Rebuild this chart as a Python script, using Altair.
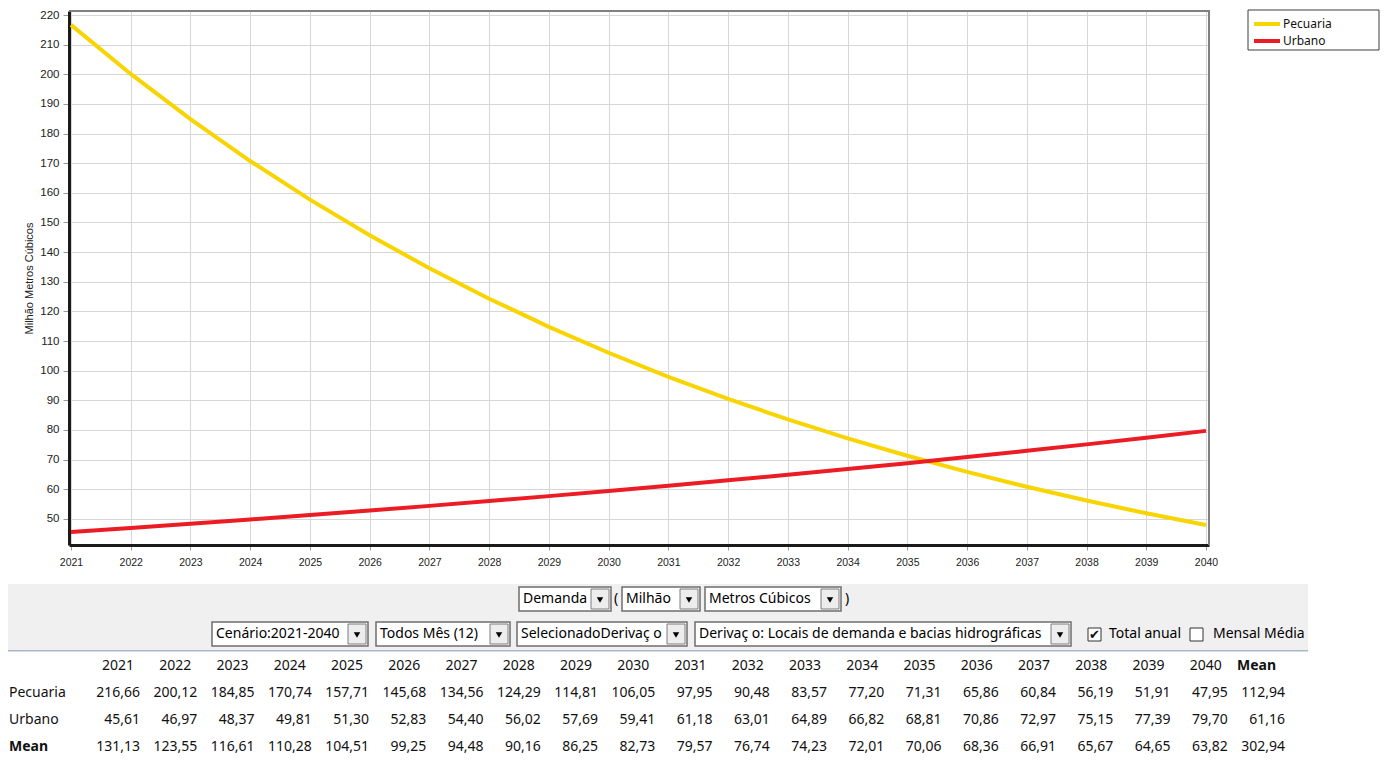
import altair as alt
import pandas as pd

# ---------------- data ----------------
years = [2021, 2022, 2023, 2024, 2025, 2026, 2027, 2028, 2029, 2030,
         2031, 2032, 2033, 2034, 2035, 2036, 2037, 2038, 2039, 2040]
pecuaria = [216.66, 200.12, 184.85, 170.74, 157.71, 145.68, 134.56, 124.29, 114.81, 106.05,
            97.95, 90.48, 83.57, 77.20, 71.31, 65.86, 60.84, 56.19, 51.91, 47.95]
urbano = [45.61, 46.97, 48.37, 49.81, 51.30, 52.83, 54.40, 56.02, 57.69, 59.41,
          61.18, 63.01, 64.89, 66.82, 68.81, 70.86, 72.97, 75.15, 77.39, 79.70]
media_anual = [131.13, 123.55, 116.61, 110.28, 104.51, 99.25, 94.48, 90.16, 86.25, 82.73,
               79.57, 76.74, 74.23, 72.01, 70.06, 68.36, 66.91, 65.67, 64.65, 63.82]
media_coluna = [112.94, 61.16, 302.94]          # "Mean" column: Pecuaria, Urbano, Mean
series = ["Pecuaria", "Urbano"]
series_colors = ["#F8D400", "#EC1C24"]
y_tick_values = [50, 60, 70, 80, 90, 100, 110, 120, 130, 140, 150, 160, 170, 180, 190, 200, 210, 220]
y_title = "Milhão Metros Cúbicos"
row_names = ["Pecuaria", "Urbano", "Mean"]
mean_label = "Mean"
combo_row1 = ["Demanda", "Milhão", "Metros Cúbicos"]
combo_row2 = ["Cenário:2021-2040", "Todos Mês (12)", "SelecionadoDerivaç o",
              "Derivaç o: Locais de demanda e bacias hidrográficas"]
checkbox_labels = ["Total anual", "Mensal Média"]
checkbox_checked = [True, False]

# ---------------- layout (page pixels) ----------------
OX, OY = 69, 11          # plot-area origin on the page
PW, PH = 1140, 534       # plot-area size
SVG_W, SVG_H = 1372, 747


def vx(x):
    return x - OX


def vy(y):
    return y - OY


ROW1 = (587, 611)
ROW2 = (622, 646)
combo_x_row1 = [(519, 611), (622, 700), (705, 841)]
combo_x_row2 = [(212, 368), (376, 510), (517, 687), (695, 1071)]
parens = [(614, "("), (845, ")")]
checkbox_x = [1088, 1190]
checkbox_label_x = [1109, 1213]
UI_FONT = "Noto Sans"

rects, texts, tris = [], [], []


def add_rect(x0, x1, y0, y1, fill, stroke="transparent", sw=0):
    rects.append(dict(x=vx(x0), x2=vx(x1), y=vy(y0), y2=vy(y1), fill=fill, stroke=stroke, sw=sw))


add_rect(8, 1308, 584, 650, "#F0F0F0")                 # control panel
add_rect(8, 1308, 650, 651.5, "#A7B7C9")               # separator
add_rect(OX, OX + PW, 10, 12, "#808080")               # top frame
add_rect(OX + PW - 1, OX + PW + 1, 10, OY + PH, "#808080")  # right frame
add_rect(1248, 1379, 10, 50, "white", "#3C3C3C", 1)    # legend box


def add_combo(label, x0, x1, row):
    y0, y1 = row
    add_rect(x0, x1, y0, y1, "white", "#6E6E6E", 1.5)
    add_rect(x1 - 20, x1 - 2, y0 + 2, y1 - 2, "#EDEDED", "#7C7C7C", 1)
    tris.append(dict(x=vx(x1 - 11), y=vy((y0 + y1) / 2 + 1)))
    texts.append(dict(x=vx(x0 + 4), y=vy((y0 + y1) / 2), t=label))


for lab, (a, b) in zip(combo_row1, combo_x_row1):
    add_combo(lab, a, b, ROW1)
for lab, (a, b) in zip(combo_row2, combo_x_row2):
    add_combo(lab, a, b, ROW2)
for px_, ch in parens:
    texts.append(dict(x=vx(px_), y=vy((ROW1[0] + ROW1[1]) / 2), t=ch))
checks = []
for cx, lx, lab, st in zip(checkbox_x, checkbox_label_x, checkbox_labels, checkbox_checked):
    add_rect(cx, cx + 13, 628, 641, "white", "#333333", 1)
    texts.append(dict(x=vx(lx), y=vy(634), t=lab))
    if st:
        checks.append(dict(x=vx(cx + 6.5), y=vy(634.5), t="✔"))

# ---------------- decoration layers ----------------
deco_rect = alt.Chart(pd.DataFrame(rects)).mark_rect().encode(
    x=alt.X("x:Q", scale=None, axis=None), x2="x2:Q",
    y=alt.Y("y:Q", scale=None, axis=None), y2="y2:Q",
    fill=alt.Fill("fill:N", scale=None, legend=None),
    stroke=alt.Stroke("stroke:N", scale=None, legend=None),
    strokeWidth=alt.StrokeWidth("sw:Q", scale=None, legend=None),
)
deco_tri = alt.Chart(pd.DataFrame(tris)).mark_point(
    shape="triangle-down", filled=True, color="#000000", size=42, opacity=1
).encode(
    x=alt.X("x:Q", scale=None, axis=None),
    y=alt.Y("y:Q", scale=None, axis=None),
)
deco_text = alt.Chart(pd.DataFrame(texts)).mark_text(
    align="left", baseline="middle", font=UI_FONT, fontSize=14, color="#000000"
).encode(
    x=alt.X("x:Q", scale=None, axis=None),
    y=alt.Y("y:Q", scale=None, axis=None),
    text="t:N",
)
deco_check = alt.Chart(pd.DataFrame(checks)).mark_text(
    align="center", baseline="middle", font="DejaVu Sans", fontSize=13, fontWeight="bold",
    color="#111111"
).encode(
    x=alt.X("x:Q", scale=None, axis=None),
    y=alt.Y("y:Q", scale=None, axis=None),
    text="t:N",
)

# ---------------- line chart ----------------
line_df = pd.DataFrame({
    "Ano": years * 2,
    "Valor": pecuaria + urbano,
    "Série": [series[0]] * len(years) + [series[1]] * len(years),
})
lines = alt.Chart(line_df).mark_line(strokeWidth=4).encode(
    x=alt.X("Ano:Q",
            scale=alt.Scale(domain=[2020.967, 2040.05], nice=False, zero=False),
            axis=alt.Axis(values=years, format="d", title=None,
                          labelFont="Liberation Sans Narrow, Arial Narrow, Liberation Sans",
                          labelFontSize=10.5, labelColor="#222222", labelPadding=7,
                          labelFlush=False, labelOverlap=False,
                          tickSize=5, tickColor="#9A9A9A", tickWidth=1,
                          domainColor="#1A1A1A", domainWidth=3,
                          gridColor="#D6D6D6", gridWidth=1)),
    y=alt.Y("Valor:Q",
            scale=alt.Scale(domain=[41.2, 221.35], nice=False, zero=False),
            axis=alt.Axis(values=y_tick_values, title=y_title,
                          titleFont="Liberation Sans", titleFontSize=11, titleFontWeight="normal",
                          titleColor="#222222", titlePadding=5,
                          labelFont="Liberation Sans", labelFontSize=11.5, labelColor="#222222",
                          labelPadding=4, labelFlush=False, labelOverlap=False,
                          tickSize=6, tickColor="#9A9A9A", tickWidth=1,
                          domainColor="#1A1A1A", domainWidth=3,
                          gridColor="#D6D6D6", gridWidth=1)),
    color=alt.Color("Série:N", scale=alt.Scale(domain=series, range=series_colors),
                    legend=alt.Legend(title=None, orient="none", legendX=1190, legendY=5,
                                      symbolType="M-2.1667,0H2.1667", symbolSize=144,
                                      symbolStrokeWidth=4, labelOffset=8,
                                      labelFont=UI_FONT, labelFontSize=12, labelColor="#111111",
                                      rowPadding=1, padding=0)),
)

# ---------------- table ----------------
col_labels = [str(y) for y in years] + [mean_label]
row_keys = ["cabecalho"] + row_names
row_scale = alt.Scale(type="point", domain=row_keys, range=[vy(666), vy(747)], padding=0)
col_scale = alt.Scale(type="point", domain=col_labels, range=[vx(140), vx(1285)], padding=0)

row_values = [pecuaria + [media_coluna[0]], urbano + [media_coluna[1]], media_anual + [media_coluna[2]]]
cells = []
for rn, vals in zip(row_names, row_values):
    for c, v in zip(col_labels, vals):
        cells.append(dict(row=rn, col=c, txt=f"{v:.2f}".replace(".", ",")))
cell_df = pd.DataFrame(cells)
hdr_df = pd.DataFrame({"row": ["cabecalho"] * len(col_labels), "col": col_labels,
                       "txt": col_labels, "bold": [c == mean_label for c in col_labels]})
rl_df = pd.DataFrame({"row": row_names, "bold": [r == mean_label for r in row_names]})

cell_layer = alt.Chart(cell_df).mark_text(
    align="right", baseline="middle", font=UI_FONT, fontSize=14, color="#111111"
).encode(
    x=alt.X("col:N", scale=col_scale, axis=None),
    y=alt.Y("row:N", scale=row_scale, axis=None),
    text="txt:N",
)
hdr_base = alt.Chart(hdr_df).encode(
    x=alt.X("col:N", scale=col_scale, axis=None),
    y=alt.Y("row:N", scale=row_scale, axis=None),
    text="txt:N",
)
hdr_norm = hdr_base.mark_text(align="right", baseline="middle", font=UI_FONT, fontSize=14,
                              color="#111111", dx=-6).transform_filter("!datum.bold")
hdr_bold = hdr_base.mark_text(align="right", baseline="middle", font=UI_FONT, fontSize=14,
                              fontWeight="bold", color="#111111", dx=-9).transform_filter("datum.bold")
rl_base = alt.Chart(rl_df).encode(
    x=alt.value(vx(9)),
    y=alt.Y("row:N", scale=row_scale, axis=None),
    text="row:N",
)
rl_norm = rl_base.mark_text(align="left", baseline="middle", font=UI_FONT, fontSize=14,
                            color="#111111").transform_filter("!datum.bold")
rl_bold = rl_base.mark_text(align="left", baseline="middle", font=UI_FONT, fontSize=14,
                            fontWeight="bold", color="#111111").transform_filter("datum.bold")

chart = alt.layer(
    deco_rect, lines, deco_tri, deco_text, deco_check,
    cell_layer, hdr_norm, hdr_bold, rl_norm, rl_bold,
).resolve_scale(
    x="independent", y="independent"
).properties(
    width=PW, height=PH,
    padding={"left": OX - 8, "top": OY - 8,
             "right": SVG_W - (OX - 8) - PW, "bottom": SVG_H - (OY - 8) - PH},
    autosize=alt.AutoSizeParams(type="none"),
    background="white",
).configure_view(stroke=None)

chart.save("out.html", embed_options={"renderer": "svg", "actions": False})
